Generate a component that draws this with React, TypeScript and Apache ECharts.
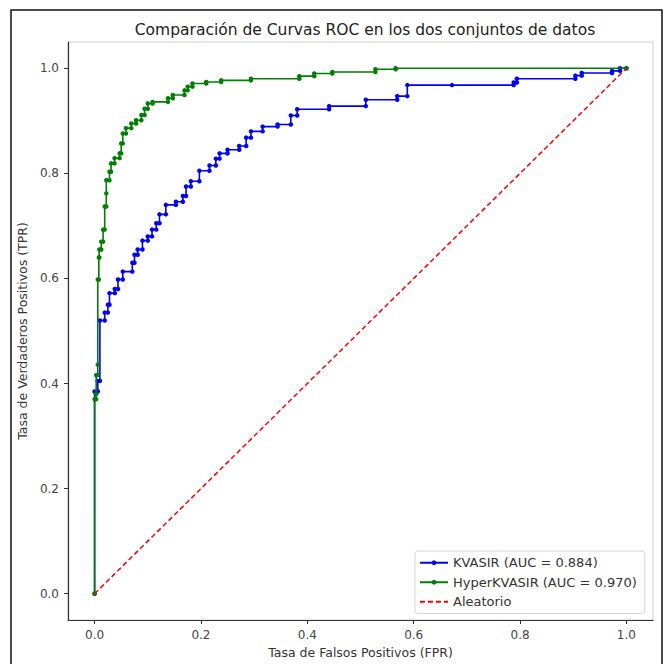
import React, { useEffect, useRef } from "react";
import * as echarts from "echarts";

const TITLE = "Comparación de Curvas ROC en los dos conjuntos de datos";
const X_NAME = "Tasa de Falsos Positivos (FPR)";
const Y_NAME = "Tasa de Verdaderos Positivos (TPR)";
const TICKS = [0, 0.2, 0.4, 0.6, 0.8, 1.0];

const KVASIR_LABEL = "KVASIR (AUC = 0.884)";
const KVASIR_FPR = [
  0, 0, 0.006, 0.006, 0.01, 0.01, 0.019, 0.019, 0.025, 0.025, 0.028, 0.028, 0.038, 0.038,
  0.044, 0.044, 0.053, 0.053, 0.071, 0.071, 0.075, 0.075, 0.081, 0.081, 0.09, 0.09, 0.1, 0.1,
  0.108, 0.108, 0.116, 0.116, 0.122, 0.122, 0.134, 0.134, 0.153, 0.153, 0.166, 0.166, 0.172,
  0.172, 0.181, 0.181, 0.197, 0.197, 0.216, 0.216, 0.228, 0.228, 0.235, 0.235, 0.25, 0.25,
  0.272, 0.272, 0.285, 0.285, 0.294, 0.294, 0.316, 0.316, 0.344, 0.344, 0.369, 0.369, 0.381,
  0.381, 0.441, 0.441, 0.51, 0.51, 0.569, 0.569, 0.588, 0.588, 0.672, 0.788, 0.788, 0.794,
  0.794, 0.904, 0.904, 0.916, 0.916, 0.973, 0.973, 0.988, 0.988, 1.0,
];
const KVASIR_TPR = [
  0, 0.385, 0.385, 0.405, 0.405, 0.52, 0.52, 0.535, 0.535, 0.55, 0.55, 0.572, 0.572, 0.58,
  0.58, 0.598, 0.598, 0.613, 0.613, 0.63, 0.63, 0.645, 0.645, 0.655, 0.655, 0.672, 0.672, 0.68,
  0.68, 0.693, 0.693, 0.705, 0.705, 0.722, 0.722, 0.74, 0.74, 0.746, 0.746, 0.757, 0.757,
  0.775, 0.775, 0.785, 0.785, 0.805, 0.805, 0.815, 0.815, 0.828, 0.828, 0.838, 0.838, 0.845,
  0.845, 0.852, 0.852, 0.868, 0.868, 0.88, 0.88, 0.889, 0.889, 0.893, 0.893, 0.91, 0.91,
  0.922, 0.922, 0.928, 0.928, 0.94, 0.94, 0.947, 0.947, 0.968, 0.968, 0.968, 0.973, 0.973,
  0.98, 0.98, 0.986, 0.986, 0.991, 0.991, 0.995, 0.995, 1.0, 1.0,
];

const HYPER_LABEL = "HyperKVASIR (AUC = 0.970)";
const HYPER_FPR = [
  0, 0, 0.003, 0.003, 0.003, 0.006, 0.006, 0.006, 0.008, 0.008, 0.009, 0.009, 0.0125, 0.0125,
  0.016, 0.016, 0.019, 0.019, 0.022, 0.022, 0.022, 0.028, 0.028, 0.031, 0.031, 0.0375, 0.0375,
  0.047, 0.047, 0.05, 0.05, 0.053, 0.053, 0.059, 0.059, 0.069, 0.069, 0.078, 0.078, 0.088,
  0.088, 0.094, 0.094, 0.1, 0.1, 0.109, 0.109, 0.138, 0.138, 0.147, 0.147, 0.169, 0.169,
  0.175, 0.175, 0.184, 0.184, 0.21, 0.21, 0.238, 0.238, 0.294, 0.294, 0.385, 0.385, 0.413,
  0.413, 0.447, 0.447, 0.528, 0.528, 0.566, 0.566, 1.0,
];
const HYPER_TPR = [
  0, 0.37, 0.37, 0.38, 0.416, 0.416, 0.436, 0.598, 0.598, 0.64, 0.64, 0.655, 0.655, 0.67,
  0.67, 0.693, 0.693, 0.737, 0.737, 0.762, 0.787, 0.787, 0.803, 0.803, 0.819, 0.819, 0.829,
  0.829, 0.838, 0.838, 0.857, 0.857, 0.876, 0.876, 0.886, 0.886, 0.895, 0.895, 0.901, 0.901,
  0.911, 0.911, 0.923, 0.923, 0.933, 0.933, 0.936, 0.936, 0.943, 0.943, 0.949, 0.949, 0.958,
  0.958, 0.965, 0.965, 0.971, 0.971, 0.974, 0.974, 0.977, 0.977, 0.98, 0.98, 0.985, 0.985,
  0.99, 0.99, 0.993, 0.993, 0.998, 0.998, 1.0, 1.0,
];

const RANDOM_LABEL = "Aleatorio";
const RANDOM_FPR = [0, 1];
const RANDOM_TPR = [0, 1];

const pairs = (xs: number[], ys: number[]) => xs.map((x, i) => [x, ys[i]]);

const FONT = "DejaVu Sans";

export default function App() {
  const ref = useRef<HTMLDivElement>(null);
  useEffect(() => {
    if (!ref.current) return;
    const chart = echarts.init(ref.current, undefined, { renderer: "svg" });
    const axisCommon = {
      type: "value" as const,
      min: -0.05,
      max: 1.05,
      splitLine: { show: false },
      axisLine: { show: true, onZero: false, lineStyle: { color: "#333", width: 1.2 } },
      axisTick: {
        show: true,
        inside: false,
        length: 4,
        customValues: TICKS,
        lineStyle: { color: "#333", width: 1 },
      },
      axisLabel: {
        customValues: TICKS,
        formatter: (v: number) => v.toFixed(1),
        color: "#444",
        fontFamily: FONT,
        fontSize: 12,
        margin: 9,
      },
      nameLocation: "middle" as const,
      nameTextStyle: { color: "#333", fontFamily: FONT, fontSize: 12.5 },
    };
    chart.setOption({
      animation: false,
      backgroundColor: "#fff",
      title: {
        text: TITLE,
        left: 360,
        textAlign: "center",
        top: 17,
        textStyle: { fontFamily: FONT, fontSize: 15.5, fontWeight: "normal", color: "#222" },
      },
      grid: {
        left: 68,
        top: 42,
        right: 14,
        bottom: 42,
        show: true,
        borderColor: "#cfcfcf",
        borderWidth: 1,
        backgroundColor: "#fff",
      },
      xAxis: { ...axisCommon, name: X_NAME, nameGap: 26 },
      yAxis: { ...axisCommon, name: Y_NAME, nameGap: 34 },
      legend: {
        orient: "vertical",
        left: 415,
        top: 551,
        padding: [4, 8, 4, 4],
        itemGap: 4,
        itemWidth: 28,
        itemHeight: 6,
        borderColor: "#d5d5d5",
        borderWidth: 1,
        borderRadius: 3,
        backgroundColor: "#fff",
        textStyle: { fontFamily: FONT, fontSize: 13, color: "#333", lineHeight: 15.5 },
        data: [
          { name: KVASIR_LABEL },
          { name: HYPER_LABEL },
          { name: RANDOM_LABEL, itemStyle: { opacity: 0 }, lineStyle: { width: 2 } },
        ],
      },
      graphic: [
        {
          type: "rect",
          shape: { x: 11, y: 10, width: 651, height: 700 },
          style: { fill: "none", stroke: "#111", lineWidth: 1.5 },
          silent: true,
          z: 100,
        },
      ],
      series: [
        {
          name: KVASIR_LABEL,
          type: "line",
          data: pairs(KVASIR_FPR, KVASIR_TPR),
          symbol: "circle",
          symbolSize: 4.5,
          showAllSymbol: true,
          color: "#0000ff",
          lineStyle: { color: "#0000ff", width: 1.6 },
          itemStyle: { color: "#0000ff" },
          z: 3,
        },
        {
          name: HYPER_LABEL,
          type: "line",
          data: pairs(HYPER_FPR, HYPER_TPR),
          symbol: "circle",
          symbolSize: 4.5,
          showAllSymbol: true,
          color: "#008000",
          lineStyle: { color: "#008000", width: 1.6 },
          itemStyle: { color: "#008000" },
          z: 4,
        },
        {
          name: RANDOM_LABEL,
          type: "line",
          data: pairs(RANDOM_FPR, RANDOM_TPR),
          symbol: "none",
          color: "#ff0000",
          lineStyle: { color: "#ff0000", width: 1.5, type: [5, 3] },
          itemStyle: { color: "#ff0000" },
          z: 5,
        },
      ],
    });
    return () => chart.dispose();
  }, []);
  return (
    <div
      ref={ref}
      style={{ position: "fixed", left: 0, top: 0, width: 667, height: 664, background: "#fff" }}
    />
  );
}
